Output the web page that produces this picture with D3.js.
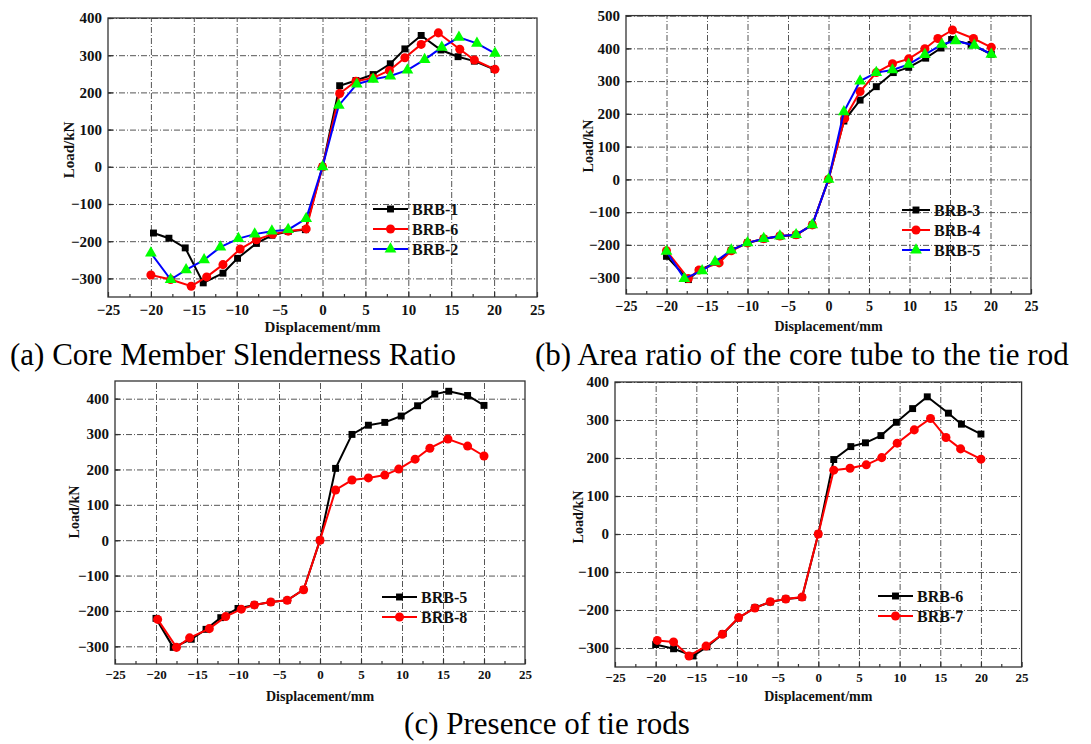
<!DOCTYPE html>
<html>
<head>
<meta charset="utf-8">
<script src="https://cdn.jsdelivr.net/npm/d3@7"></script>
<style>
  body { margin: 0; background: #fff; }
  svg { display: block; }
  .grid line { stroke: #555; stroke-dasharray: 6,2,1,2; stroke-width: 1; }
  .grid path, .minor path { display: none; }
  .ax path { display: none; }
  .ax line, .minor line { stroke: #333; stroke-width: 1.2; }
  .ttl { font-family: "Liberation Serif", "Times New Roman", serif; font-weight: bold; fill: #111; }
  .cap { font-family: "Liberation Serif", "Times New Roman", serif; fill: #000; }
</style>
</head>
<body>
<svg id="chart" width="1091" height="744"></svg>
<script>
// ---- data (displacement mm / load kN) ----
var xTicks = [-25, -20, -15, -10, -5, 0, 5, 10, 15, 20, 25];
var yTicksA = [-300, -200, -100, 0, 100, 200, 300, 400];
var yTicksB = [-300, -200, -100, 0, 100, 200, 300, 400, 500];

// (a) slenderness ratio
var dispBRB1a = [-19.7, -17.9, -16.0, -13.9, -11.6, -9.9, -7.7, -5.9, -4.0, -2.0, 0, 2.0, 3.9, 5.9, 7.9, 9.6, 11.5, 13.8, 15.8, 17.7, 20.0];
var loadBRB1a = [-178, -192, -218, -312, -286, -246, -206, -184, -174, -169, 0, 218, 232, 248, 277, 317, 353, 314, 296, 284, 262];
var dispBRB6a = [-20.0, -17.7, -15.3, -13.5, -11.6, -9.6, -7.7, -5.8, -4.0, -1.9, 0, 2.0, 3.9, 5.9, 7.8, 9.6, 11.5, 13.5, 16.0, 17.7, 20.1];
var loadBRB6a = [-291, -303, -321, -296, -263, -221, -196, -181, -173, -167, 0, 197, 230, 239, 259, 293, 329, 360, 316, 287, 262];
var dispBRB2a = [-20.0, -17.7, -15.9, -13.8, -11.9, -9.8, -7.9, -5.9, -4.0, -1.9, 0, 1.9, 4.0, 5.9, 7.9, 9.9, 11.9, 13.9, 15.9, 18.0, 20.1];
var loadBRB2a = [-232, -303, -277, -250, -216, -193, -181, -173, -169, -139, 0, 165, 222, 235, 244, 260, 288, 321, 348, 332, 305];

// (b) area ratio
var dispBRB3b = [-20.0, -17.3, -16.0, -13.8, -12.0, -10.0, -8.0, -6.0, -4.0, -2.0, 0, 1.9, 3.9, 5.9, 8.0, 9.9, 12.0, 13.9, 15.2, 17.6, 20.1];
var loadBRB3b = [-235, -306, -278, -253, -217, -194, -182, -174, -170, -139, 0, 178, 242, 283, 326, 342, 370, 401, 427, 412, 382];
var dispBRB4b = [-20.0, -17.3, -16.0, -13.5, -12.0, -10.0, -8.0, -6.0, -4.0, -2.0, 0, 2.0, 3.9, 5.9, 7.9, 9.9, 11.9, 13.5, 15.3, 17.9, 20.1];
var loadBRB4b = [-218, -303, -277, -255, -218, -194, -181, -173, -169, -139, 0, 186, 268, 326, 353, 368, 399, 430, 456, 430, 403];
var dispBRB5b = [-20.0, -17.8, -15.6, -14.0, -12.0, -10.0, -8.0, -6.0, -4.0, -2.0, 0, 1.9, 3.9, 5.9, 7.9, 9.9, 11.9, 14.0, 15.7, 18.0, 20.1];
var loadBRB5b = [-220, -303, -279, -252, -216, -194, -181, -173, -169, -139, 0, 206, 300, 326, 334, 351, 381, 412, 423, 409, 382];

// (c) tie rods, left
var dispBRB5c = [-20.0, -17.9, -15.7, -13.9, -12.1, -10.0, -8.0, -6.0, -4.0, -2.0, 0, 1.9, 3.9, 5.9, 7.9, 9.9, 11.9, 14.0, 15.7, 18.0, 20.0];
var loadBRB5c = [-221, -303, -280, -252, -219, -193, -183, -175, -170, -140, 0, 203, 299, 325, 333, 351, 380, 413, 421, 409, 381];
var dispBRB8c = [-19.8, -17.5, -15.9, -13.5, -11.5, -9.6, -8.0, -6.0, -4.0, -2.0, 0, 1.9, 3.9, 5.9, 7.9, 9.6, 11.6, 13.4, 15.6, 18.0, 20.0];
var loadBRB8c = [-224, -303, -276, -250, -216, -195, -183, -175, -170, -140, 0, 142, 170, 176, 184, 201, 229, 260, 286, 266, 238];

// (c) tie rods, right
var dispBRB6d = [-20.0, -17.8, -15.4, -13.7, -11.7, -9.8, -7.8, -5.9, -4.0, -2.0, 0, 1.9, 4.0, 5.8, 7.7, 9.6, 11.6, 13.4, 16.0, 17.6, 20.0];
var loadBRB6d = [-291, -302, -321, -297, -262, -221, -194, -179, -171, -167, 0, 196, 230, 240, 259, 294, 330, 361, 318, 289, 263];
var dispBRB7d = [-19.8, -17.8, -15.9, -13.8, -11.8, -9.8, -7.8, -5.9, -4.0, -2.0, 0, 1.9, 3.9, 5.9, 7.8, 9.7, 11.8, 13.8, 15.7, 17.5, 20.0];
var loadBRB7d = [-280, -284, -321, -295, -264, -220, -195, -178, -171, -166, 0, 168, 173, 182, 201, 239, 274, 304, 254, 224, 197];

var svg = d3.select("#chart");
var serif = '"Liberation Serif", "Times New Roman", serif';

// marker styles
var styles = {
    sq: { line: "#000", fill: "#000", shape: d3.symbolSquare, size: 48 },
    ci: { line: "#f00", fill: "#f00", shape: d3.symbolCircle, size: 64 },
    tr: { line: "#00f", fill: "#0f0", shape: d3.symbolTriangle, size: 60 }
};

var drawPanel = function(p) {
    var x = d3.scaleLinear().domain([-25, 25]).range([p.left, p.right]);
    var y = d3.scaleLinear().domain(p.ydom).range([p.bottom, p.top]);
    var w = p.right - p.left, h = p.bottom - p.top;
    var g = svg.append("g");

    // dash-dot grid
    g.append("g").attr("class", "grid")
        .attr("transform", "translate(0," + p.bottom + ")")
        .call(d3.axisBottom(x).tickValues(xTicks.slice(1, -1)).tickSize(-h).tickFormat(""));
    g.append("g").attr("class", "grid")
        .attr("transform", "translate(" + p.left + ",0)")
        .call(d3.axisLeft(y).tickValues(p.yticks).tickSize(-w).tickFormat(""));

    // minor ticks (inward)
    var xMinor = d3.range(-22.5, 25, 5);
    var yMinor = d3.range(p.ydom[0], p.ydom[1], 100).map(function(v) { return v + 50; });
    g.append("g").attr("class", "minor")
        .attr("transform", "translate(0," + p.bottom + ")")
        .call(d3.axisBottom(x).tickValues(xMinor).tickSize(-3).tickFormat(""));
    g.append("g").attr("class", "minor")
        .attr("transform", "translate(" + p.left + ",0)")
        .call(d3.axisLeft(y).tickValues(yMinor).tickSize(-3).tickFormat(""));

    // major ticks + labels
    var xa = g.append("g").attr("class", "ax")
        .attr("transform", "translate(0," + p.bottom + ")")
        .call(d3.axisBottom(x).tickValues(xTicks).tickSize(-5).tickPadding(p.xpad));
    var ya = g.append("g").attr("class", "ax")
        .attr("transform", "translate(" + p.left + ",0)")
        .call(d3.axisLeft(y).tickValues(p.yticks).tickSize(-5).tickPadding(6));
    xa.attr("font-family", serif).attr("font-size", p.xfont).attr("font-weight", "bold");
    ya.attr("font-family", serif).attr("font-size", p.yfont).attr("font-weight", "bold");
    g.selectAll(".ax text").attr("fill", "#111");

    // frame
    g.append("rect").attr("x", p.left).attr("y", p.top).attr("width", w).attr("height", h)
        .attr("fill", "none").attr("stroke", "#333").attr("stroke-width", 1.3);

    // series
    var line = d3.line()
        .x(function(d) { return x(d[0]); })
        .y(function(d) { return y(d[1]); });
    p.series.forEach(function(s) {
        var st = styles[s.style];
        var pts = d3.zip(s.xs, s.ys);
        g.append("path").datum(pts).attr("d", line)
            .attr("fill", "none").attr("stroke", st.line).attr("stroke-width", 2);
        g.selectAll(null).data(pts).enter().append("path")
            .attr("d", d3.symbol().type(st.shape).size(st.size))
            .attr("transform", function(d) { return "translate(" + x(d[0]) + "," + y(d[1]) + ")"; })
            .attr("fill", st.fill);
    });

    // legend
    p.series.forEach(function(s, i) {
        var st = styles[s.style];
        var ly = p.leg[2] + i * 20;
        g.append("line").attr("x1", p.leg[0]).attr("x2", p.leg[1]).attr("y1", ly).attr("y2", ly)
            .attr("stroke", st.line).attr("stroke-width", 2);
        g.append("path").attr("d", d3.symbol().type(st.shape).size(st.size))
            .attr("transform", "translate(" + (p.leg[0] + p.leg[1]) / 2 + "," + ly + ")")
            .attr("fill", st.fill);
        g.append("text").attr("class", "ttl").attr("x", p.leg[1] + 4).attr("y", ly)
            .attr("dy", "0.35em").style("font-size", "16px").text(s.name);
    });

    // axis titles
    g.append("text").attr("class", "ttl").attr("text-anchor", "middle")
        .attr("x", (p.left + p.right) / 2).attr("y", p.xtitle)
        .attr("dy", "0.35em").style("font-size", p.tfont + "px").text("Displacement/mm");
    g.append("text").attr("class", "ttl").attr("text-anchor", "middle")
        .attr("transform", "translate(" + p.ytitle[0] + "," + p.ytitle[1] + ") rotate(-90)")
        .attr("dy", "0.35em").style("font-size", p.tfont + "px").text("Load/kN");
};

drawPanel({
    left: 108, right: 537, top: 18, bottom: 297, ydom: [-350, 400], yticks: yTicksA,
    xfont: 15, yfont: 15, tfont: 15, xpad: 7, xtitle: 327, ytitle: [69, 150],
    leg: [373, 408, 209],
    series: [
        { name: "BRB-1", style: "sq", xs: dispBRB1a, ys: loadBRB1a },
        { name: "BRB-6", style: "ci", xs: dispBRB6a, ys: loadBRB6a },
        { name: "BRB-2", style: "tr", xs: dispBRB2a, ys: loadBRB2a }
    ]
});

drawPanel({
    left: 626, right: 1031, top: 15.6, bottom: 294, ydom: [-350, 500], yticks: yTicksB,
    xfont: 14, yfont: 15, tfont: 14, xpad: 7, xtitle: 326, ytitle: [588, 146],
    leg: [902, 930, 210],
    series: [
        { name: "BRB-3", style: "sq", xs: dispBRB3b, ys: loadBRB3b },
        { name: "BRB-4", style: "ci", xs: dispBRB4b, ys: loadBRB4b },
        { name: "BRB-5", style: "tr", xs: dispBRB5b, ys: loadBRB5b }
    ]
});

drawPanel({
    left: 115, right: 525, top: 381, bottom: 664, ydom: [-350, 450], yticks: yTicksA,
    xfont: 13, yfont: 15, tfont: 14, xpad: 6, xtitle: 696, ytitle: [74, 512],
    leg: [382, 417, 597],
    series: [
        { name: "BRB-5", style: "sq", xs: dispBRB5c, ys: loadBRB5c },
        { name: "BRB-8", style: "ci", xs: dispBRB8c, ys: loadBRB8c }
    ]
});

drawPanel({
    left: 615, right: 1021.6, top: 382, bottom: 667, ydom: [-350, 400], yticks: yTicksA,
    xfont: 13, yfont: 15, tfont: 14, xpad: 6, xtitle: 696, ytitle: [578, 517],
    leg: [878, 913, 596],
    series: [
        { name: "BRB-6", style: "sq", xs: dispBRB6d, ys: loadBRB6d },
        { name: "BRB-7", style: "ci", xs: dispBRB7d, ys: loadBRB7d }
    ]
});

// sub-figure captions
svg.append("text").attr("class", "cap").attr("x", 10).attr("y", 365)
    .style("font-size", "31px").text("(a) Core Member Slenderness Ratio");
svg.append("text").attr("class", "cap").attr("x", 535).attr("y", 365)
    .style("font-size", "31px").text("(b) Area ratio of the core tube to the tie rod");
svg.append("text").attr("class", "cap").attr("x", 547).attr("y", 734)
    .attr("text-anchor", "middle").style("font-size", "31px").text("(c) Presence of tie rods");
</script>
</body>
</html>
